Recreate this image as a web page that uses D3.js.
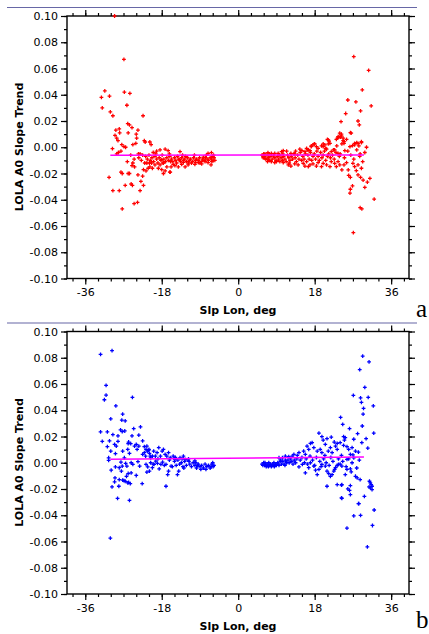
<!DOCTYPE html>
<html>
<head>
<meta charset="utf-8">
<script src="https://cdn.jsdelivr.net/npm/d3@7"></script>
<style>
  body { margin: 0; background: #fff; }
  svg { display: block; }
  .tick text { font-family: "DejaVu Sans", Verdana, sans-serif; font-size: 11px; fill: #000; }
</style>
</head>
<body>
<svg width="429" height="634"></svg>
<script>
// axis ticks
var xTickValues = [-36, -18, 0, 18, 36];
var yTickValues = [-0.10, -0.08, -0.06, -0.04, -0.02, 0, 0.02, 0.04, 0.06, 0.08, 0.10];

// panel a (red) : [Slp Lon deg, A0 slope trend]
var redPoints = [
  [-32.2,0.038],[-31.4,0.043],[-30.3,0.039],[-32.0,0.030],[-30.1,0.027],[-29.5,0.024],[-29.1,0.100],
  [-26.9,0.067],[-26.8,0.042],[-25.5,0.041],[-26.2,0.032],[-26.0,0.018],[-25.6,0.017],[-25.0,0.015],
  [-28.0,0.014],[-28.8,0.013],[-27.9,0.011],[-23.6,0.013],[-24.0,0.010],[-25.9,0.011],[-29.0,0.009],
  [-28.6,0.007],[-28.3,0.005],[-22.4,0.024],[-23.9,0.007],[-24.8,0.002],[-24.1,0.003],[-22.1,0.005],
  [-21.9,0.004],[-20.8,0.004],[-20.5,0.002],[-27.4,0.002],[-26.9,0.0005],[-26.5,0.000],[-29.6,-0.001],
  [-27.6,-0.003],[-28.2,-0.004],[-28.6,-0.005],[-23.5,-0.005],[-23.1,-0.005],
  [-30.4,-0.023],[-29.5,-0.033],[-28.0,-0.033],[-27.6,-0.019],[-27.3,-0.020],[-27.3,-0.047],[-26.6,-0.029],
  [-25.9,-0.020],[-25.6,-0.020],[-25.2,-0.028],[-24.9,-0.029],[-24.5,-0.043],[-23.7,-0.042],[-25.0,-0.014],
  [-24.4,-0.015],[-23.6,-0.021],[-23.1,-0.033],[-22.9,-0.026],[-22.5,-0.022],[-22.3,-0.029],
  [-17.6,-0.020],[-17.2,-0.018],[-16.0,-0.019],[-22.3,-0.017],[-21.7,-0.018],[-21.2,-0.016],[-21.5,-0.012],
  [-20.8,-0.015],[-20.2,-0.016],[-20.4,-0.012],[-19.6,-0.0135],[-18.8,-0.016],[-18.4,-0.0135],[-18.0,-0.017],
  [-17.6,-0.012],[-16.8,-0.015],[-16.1,-0.019],[-15.8,-0.015],[-15.3,-0.013],[-14.9,-0.014],[-14.1,-0.015],
  [-13.3,-0.013],[-12.9,-0.0115],[-12.5,-0.015],[-11.8,-0.0135],[-11.0,-0.012],[-10.2,-0.013],[-9.4,-0.0117],
  [-8.6,-0.0127],[-7.8,-0.011],[-7.1,-0.0117],[-6.4,-0.0135],[-5.9,-0.0102],
  [-20.0,-0.004],[-19.2,-0.003],[-18.4,-0.002],[-17.2,-0.0015],[-16.5,-0.0026],[-13.7,-0.0033],[-7.1,-0.0046],
  [-6.3,-0.0041],
  [-21.8,-0.007],[-21.4,-0.009],[-21.0,-0.006],[-20.7,-0.010],[-20.3,-0.008],[-19.9,-0.011],[-19.6,-0.007],
  [-19.2,-0.009],[-18.9,-0.012],[-18.6,-0.008],[-18.2,-0.010],[-17.9,-0.006],[-17.5,-0.009],[-17.1,-0.011],
  [-16.8,-0.008],[-16.4,-0.010],[-16.1,-0.007],[-15.7,-0.009],[-15.4,-0.011],[-15.0,-0.008],[-14.7,-0.010],
  [-14.3,-0.007],[-14.0,-0.009],[-13.6,-0.011],[-13.3,-0.008],[-12.9,-0.010],[-12.6,-0.009],[-12.2,-0.011],
  [-11.9,-0.008],[-11.5,-0.010],[-11.2,-0.009],[-10.8,-0.011],[-10.5,-0.008],[-10.1,-0.010],[-9.8,-0.009],
  [-9.4,-0.010],[-9.1,-0.008],[-8.7,-0.011],[-8.4,-0.009],[-8.0,-0.010],[-7.7,-0.008],[-7.3,-0.009],
  [-7.0,-0.010],[-6.6,-0.008],[-6.3,-0.009],[-6.0,-0.007],[-5.7,-0.008],[-5.5,-0.010],
  [-20.9,-0.012],[-19.4,-0.005],[-17.7,-0.012],[-16.2,-0.005],[-14.5,-0.012],[-13.1,-0.006],[-11.7,-0.012],
  [-10.3,-0.006],[-9.0,-0.012],[-7.5,-0.006],[-6.2,-0.011],[-5.8,-0.006],[-12.4,-0.007],[-15.9,-0.011],
  [-18.0,-0.0095],[-8.2,-0.0075],[-10.0,-0.0115],[-13.8,-0.0095],
  [-23.4,-0.008],[-22.8,-0.010],[-22.5,-0.006],[-24.5,-0.009],[-25.3,-0.006],[-26.1,-0.011],[-22.0,-0.012],
  [-24.8,-0.012],
  // right half
  [27.2,0.069],[30.7,0.0585],[29.2,0.0437],[25.8,0.036],[27.7,0.0346],[31.3,0.0315],[28.8,0.0277],
  [25.3,0.0257],[28.2,0.020],[28.5,0.017],[24.2,0.0195],[26.4,0.0112],[24.3,0.010],[24.1,0.0077],
  [23.7,0.008],[23.4,0.0069],[21.0,0.006],[21.4,0.0046],[21.2,0.0025],[24.7,0.005],[24.9,0.003],
  [25.5,0.006],[26.9,0.0012],[27.4,0.003],[27.9,0.0035],[28.4,0.001],[29.0,0.0043],[30.2,0.000],
  [28.7,-0.005],[19.6,0.001],[20.0,0.0025],[20.6,-0.0008],[17.2,0.001],[17.9,0.0025],[18.4,0.0005],
  [18.8,-0.0008],[14.5,-0.0015],[15.0,-0.0026],[15.7,-0.0033],[16.3,-0.002],[16.9,-0.0026],[10.2,-0.0033],
  [10.6,-0.0026],[11.4,-0.003],[12.4,-0.0046],[13.3,-0.005],[6.3,-0.005],[7.0,-0.0041],[7.8,-0.0046],
  [8.6,-0.0046],[9.4,-0.0046],
  [27.1,-0.065],[28.7,-0.046],[29.1,-0.047],[32.0,-0.0395],[26.4,-0.032],[26.9,-0.0295],[26.3,-0.035],
  [29.8,-0.0305],[30.4,-0.0265],[31.0,-0.0237],[27.8,-0.0178],[28.2,-0.021],[28.8,-0.023],[29.4,-0.025],
  [25.9,-0.0173],[26.0,-0.0214],[26.4,-0.023],[27.0,-0.0122],[27.4,-0.0148],[28.2,-0.0135],[29.0,-0.016],
  [24.4,-0.0173],[24.9,-0.0135],[25.5,-0.0117],[23.5,-0.011],[23.9,-0.0135],[23.1,-0.0148],[22.7,-0.0122],
  [20.8,-0.0135],[21.6,-0.0148],[21.9,-0.011],[19.6,-0.0148],[20.0,-0.0122],[16.5,-0.0148],[16.9,-0.0135],
  [17.6,-0.0127],[18.4,-0.0143],[18.8,-0.0117],[11.8,-0.0135],[12.4,-0.0143],[13.3,-0.0127],[14.1,-0.0135],
  [15.3,-0.0122],[15.7,-0.0143],[7.8,-0.011],[8.6,-0.0117],[9.8,-0.011],[10.6,-0.0117],[6.3,-0.0084],
  [7.0,-0.0092],[5.9,-0.0072],
  [23.9,0.0107],[24.3,0.0086],[24.7,0.0069],[24.9,0.0043],[23.5,0.008],[23.1,0.006],[24.4,0.0025],
  [21.2,0.0056],[21.6,0.003],[20.4,0.0018],[20.0,0.0005],[20.8,-0.0015],[18.0,0.0025],[17.6,0.0018],
  [17.2,0.0005],[16.5,-0.002],[16.1,-0.0008],[21.9,-0.0033],[22.7,-0.002],[23.5,-0.0046],[25.1,-0.0026],
  [26.3,0.0005],[27.4,0.0018],[28.2,0.003],[29.0,0.0035],[26.6,0.0107],
  [5.6,-0.006],[5.9,-0.008],[6.2,-0.007],[6.5,-0.009],[6.8,-0.006],[7.1,-0.008],[7.4,-0.010],[7.7,-0.007],
  [8.0,-0.009],[8.3,-0.006],[8.6,-0.008],[8.9,-0.010],[9.2,-0.007],[9.5,-0.009],[9.8,-0.006],[10.1,-0.008],
  [10.4,-0.010],[10.7,-0.007],[11.0,-0.009],[11.3,-0.011],[11.6,-0.006],[11.9,-0.008],[12.2,-0.010],
  [12.5,-0.007],[12.8,-0.009],[13.1,-0.005],[13.4,-0.008],[13.7,-0.011],[14.0,-0.006],[14.3,-0.009],
  [14.6,-0.004],[14.9,-0.010],[15.2,-0.007],[15.5,-0.009],[15.8,-0.005],[16.1,-0.011],[16.4,-0.006],
  [16.7,-0.009],[17.0,-0.004],[17.3,-0.010],[17.6,-0.007],[17.9,-0.005],[18.2,-0.009],[18.5,-0.003],
  [18.8,-0.007],[19.1,-0.010],[19.4,-0.004],[19.7,-0.008],[20.0,-0.006],[20.3,-0.003],[20.6,-0.010],
  [21.0,-0.007],[21.3,-0.005],[21.7,-0.008],[22.2,-0.006],[22.6,-0.009],[23.0,-0.004],[23.8,-0.007],
  [6.0,-0.005],[7.3,-0.005],[9.0,-0.011],[10.5,-0.005],[12.0,-0.012],[13.5,-0.003],[6.9,-0.011],
  [22.4,-0.002],[23.2,0.001],[24.0,-0.005],[25.0,-0.008],[25.8,-0.003],[26.5,-0.006],[27.2,-0.009],
  [27.9,-0.002],[28.6,-0.007],[29.3,-0.011],[29.8,-0.004]
];

// panel b (blue)
var bluePoints = [
  [-32.4,0.0825],[-29.7,0.0855],[-31.1,0.059],[-31.1,0.0516],[-31.5,0.048],[-28.8,0.0434],[-24.9,0.0498],
  [-30.0,0.0334],[-27.2,0.037],[-27.4,0.0324],[-26.6,0.0319],[-32.4,0.0235],[-30.8,0.0235],[-32.0,0.0163],
  [-27.7,0.025],[-27.3,0.0238],[-26.7,0.0242],[-29.5,0.0215],[-28.3,0.0204],[-24.6,0.026],[-23.0,0.0273],
  [-23.4,0.021],[-25.0,0.0204],[-25.8,0.0158],[-25.9,0.0145],[-25.3,0.0145],
  [-30.3,0.0166],[-30.8,0.0123],[-29.1,0.014],[-28.7,0.0127],[-28.3,0.0163],
  [-30.0,0.0089],[-28.9,0.0069],[-27.2,0.0089],[-26.0,0.0102],[-25.6,0.0071],[-26.8,0.0038],[-27.6,0.0005],
  [-24.4,0.0127],[-24.0,0.014],[-23.4,0.0127],[-23.8,0.0102],[-22.5,0.0166],[-22.1,0.0123],[-21.7,0.0102],
  [-21.5,0.0127],[-21.1,0.0094],[-20.9,0.0071],[-20.7,0.0051],[-30.5,0.0038],[-30.5,0.0018],
  [-29.9,-0.0057],[-28.9,-0.0031],[-28.0,-0.0038],[-27.3,-0.0026],[-26.5,-0.0005],[-26.2,-0.0026],
  [-25.2,0.000],[-24.8,-0.0013],[-23.6,0.0008],[-23.2,-0.0026],[-25.9,-0.0082],[-26.3,-0.0103],
  [-27.5,-0.0064],[-24.0,-0.0097],[-25.2,-0.0077],
  [-29.0,-0.0115],[-29.1,-0.0146],[-29.7,-0.0184],[-28.1,-0.0179],[-28.0,-0.0128],[-27.2,-0.0133],
  [-26.6,-0.0141],[-26.0,-0.0153],[-25.4,-0.0159],[-22.6,-0.0159],[-28.4,-0.0271],[-25.6,-0.0287],
  [-30.1,-0.0575],[-17.0,-0.0179],[-26.9,-0.0136],[-25.8,-0.0149],
  [-21.7,-0.0013],[-21.3,-0.0031],[-20.6,0.000],[-20.2,-0.0038],[-19.8,-0.0013],[-19.4,0.0012],
  [-19.0,-0.0005],[-18.6,-0.0046],[-18.2,-0.0013],[-17.8,0.0005],[-17.0,-0.0013],[-16.6,-0.009],
  [-16.4,-0.0064],[-15.8,-0.0026],[-14.3,-0.009],[-14.0,-0.0064],[-21.5,-0.0072],[-20.9,-0.0064],
  [-22.5,0.0064],[-22.1,0.0077],[-21.8,0.0051],[-21.4,0.0089],[-21.0,0.0102],[-20.6,0.0038],[-20.2,0.0051],
  [-19.9,0.0089],[-19.5,0.0051],[-19.1,0.0077],[-18.7,0.0115],[-18.3,0.0051],[-17.9,0.0089],[-17.6,0.0102],
  [-17.2,0.0064],[-16.8,0.0051],[-16.4,0.0077],[-16.0,0.0038],[-15.3,0.0051],[-14.9,0.0025],[-13.7,0.0038],
  [-12.9,0.0051],[-12.5,0.0025],[-11.7,0.0030],[-10.2,0.0015],
  [-15.0,0.001],[-14.6,-0.002],[-14.2,0.002],[-13.8,-0.001],[-13.4,0.000],[-13.0,-0.003],[-12.6,0.001],
  [-12.2,-0.002],[-11.8,0.002],[-11.4,-0.001],[-11.0,-0.003],[-10.6,0.000],[-10.2,-0.002],[-9.8,-0.004],
  [-9.4,-0.001],[-9.0,-0.003],[-8.6,-0.002],[-8.2,-0.004],[-7.8,-0.001],[-7.4,-0.003],[-7.0,-0.002],
  [-6.6,-0.004],[-6.2,-0.001],[-5.9,-0.003],[-5.7,-0.002],[-14.8,0.004],[-13.2,0.003],[-11.6,0.001],
  [-10.0,0.000],[-8.8,-0.005],[-7.6,-0.005],[-6.4,-0.003],[-12.8,-0.004],[-9.6,-0.002],[-6.0,0.000],
  [-15.5,-0.003],[-16.2,0.002],[-17.4,-0.002],[-18.9,0.003],[-20.0,-0.001],
  // right half
  [29.3,0.0812],[30.8,0.0769],[28.6,0.071],[29.8,0.0575],[27.1,0.0513],[28.8,0.0495],[30.6,0.0498],
  [29.0,0.046],[29.5,0.0414],[29.4,0.037],[31.8,0.0434],[29.2,0.028],[31.9,0.0225],[24.1,0.0345],
  [24.6,0.0293],[26.2,0.026],[28.1,0.0222],[27.2,0.0179],[29.1,0.0153],[30.1,0.0184],[30.5,0.0112],
  [24.8,0.0199],[25.2,0.0192],[25.0,0.0173],[24.0,0.0153],[24.8,0.0133],[25.6,0.0123],[26.0,0.0102],
  [26.8,0.0115],[27.6,0.0089],[28.3,0.0081],[26.4,0.0064],[27.2,0.0038],[25.6,0.0025],[24.3,0.0056],
  [19.0,0.0225],[19.7,0.0199],[20.0,0.0173],[20.9,0.0184],[20.5,0.014],[21.9,0.0196],[22.6,0.0158],
  [22.9,0.0127],[23.3,0.0148],[21.7,0.0115],[21.2,0.0089],[22.1,0.0077],[23.3,0.0102],
  [16.2,0.0127],[17.0,0.0148],[17.4,0.0153],[16.6,0.0102],[17.8,0.0115],[18.6,0.0089],[19.3,0.0102],
  [19.7,0.0077],[20.4,0.0056],[15.4,0.0089],[15.8,0.0064],[14.3,0.0077],[13.9,0.0056],[13.1,0.0064],
  [12.7,0.0051],[11.9,0.0046],[11.1,0.0051],[10.4,0.0038],[9.6,0.0038],
  [15.8,-0.0077],[14.3,-0.0031],[15.1,-0.0013],[16.6,-0.0038],[17.0,0.000],[17.8,-0.0026],[18.2,-0.0057],
  [18.6,-0.009],[19.0,-0.0051],[19.7,-0.0013],[20.5,-0.0026],[20.9,-0.0064],[21.3,-0.0082],[21.7,-0.0103],
  [22.1,-0.009],[22.5,-0.0064],[22.9,-0.0038],[23.3,-0.0021],[23.6,-0.0013],[24.4,-0.0026],[25.2,-0.009],
  [25.6,-0.0051],[26.4,-0.0046],[26.8,0.000],[27.6,-0.0103],[28.0,-0.0115],[28.7,-0.0128],
  [20.9,-0.0179],[23.3,-0.0166],[24.4,-0.0166],[24.3,-0.0268],[26.4,-0.0174],[26.2,-0.021],[26.4,-0.0243],
  [29.7,-0.0256],[28.4,-0.0312],[28.8,-0.0401],[27.2,-0.0404],[25.6,-0.0498],[32.0,-0.036],[31.6,-0.0478],
  [30.4,-0.0641],[31.1,-0.0153],[31.5,-0.0179],[31.1,-0.0192],[31.3,-0.0166],[30.9,-0.0141],
  [24.3,-0.0171],[25.8,-0.0199],[24.4,-0.0271],[28.3,-0.0312],[30.8,-0.0184],[31.5,-0.0205],
  [5.6,-0.001],[5.8,-0.002],[6.0,0.000],[6.2,-0.002],[6.4,-0.001],[6.6,-0.003],[6.8,-0.001],[7.0,-0.002],
  [7.2,0.000],[7.4,-0.002],[7.6,-0.001],[7.8,-0.003],[8.0,-0.001],[8.2,-0.002],[8.4,0.000],[8.6,-0.002],
  [8.8,-0.001],[9.0,-0.002],[9.3,0.000],[9.6,-0.002],[9.9,0.001],[10.2,-0.001],[10.5,0.001],[10.8,-0.001],
  [11.1,0.002],[11.4,0.000],[11.7,0.002],[12.0,0.000],[12.3,0.003],[12.6,0.001],[12.9,-0.001],[13.2,0.002],
  [13.5,0.000],[13.8,0.003],[6.3,0.000],[7.1,-0.003],[8.5,-0.003],[9.4,-0.001],[10.0,0.002],[11.0,-0.002],
  [14.6,0.002],[15.0,0.004],[15.6,0.000],[16.0,0.003],[16.3,-0.001],[16.9,0.005],[17.5,0.002],[18.0,-0.002],
  [18.4,0.004],[19.2,0.001],[19.5,-0.003],[20.1,0.003],[20.7,0.000],[21.4,-0.002],[21.8,0.004],[22.3,0.001],
  [22.7,-0.005],[23.6,0.003],[24.0,-0.001],[24.6,0.001],[25.4,-0.003],[26.0,0.003],[26.6,-0.007],[27.0,0.006],
  [27.9,-0.004],[28.5,0.002]
];

// fitted trend lines: [lon start, lon end] and values at those ends
var trendLon = [-30.1, 29.6];
var redTrend = [-0.0061, -0.0059];
var blueTrend = [0.0027, 0.0043];

var svg = d3.select("svg");
svg.append("rect").attr("width", 429).attr("height", 634).attr("fill", "#fff");

var x = d3.scaleLinear().domain([-40.3, 40.2]).range([67, 409]);
var xMinor = d3.range(-39, 40, 3);
var yMinor = d3.range(-10, 11).map(function(d) { return d / 100; });

function drawPanel(top, points, color, trend, letter, letterY) {
  var y = d3.scaleLinear().domain([-0.1, 0.1]).range([top + 262.5, top]);
  var g = svg.append("g");

  // separator line above panel
  g.append("line")
    .attr("x1", 7).attr("x2", 417)
    .attr("y1", top - 8.5).attr("y2", top - 8.5)
    .attr("stroke", "#6767a6").attr("stroke-width", 1.2);

  // minor ticks (no labels) on all four sides
  var sides = [
    [d3.axisLeft(y).tickValues(yMinor), "translate(67,0)"],
    [d3.axisRight(y).tickValues(yMinor), "translate(409,0)"],
    [d3.axisBottom(x).tickValues(xMinor), "translate(0," + (top + 262.5) + ")"],
    [d3.axisTop(x).tickValues(xMinor), "translate(0," + top + ")"]
  ];
  sides.forEach(function(s) {
    g.append("g").attr("transform", s[1])
      .call(s[0].tickSize(3).tickSizeOuter(0).tickFormat(""))
      .call(function(a) { a.select(".domain").remove(); });
  });

  // major ticks
  g.append("g").attr("transform", "translate(67,0)")
    .call(d3.axisLeft(y).tickValues(yTickValues).tickSize(6).tickPadding(3)
      .tickFormat(function(d) { return d.toFixed(2); }))
    .call(function(a) { a.select(".domain").remove(); });
  g.append("g").attr("transform", "translate(409,0)")
    .call(d3.axisRight(y).tickValues(yTickValues).tickSize(6).tickFormat(""))
    .call(function(a) { a.select(".domain").remove(); });
  g.append("g").attr("transform", "translate(0," + (top + 262.5) + ")")
    .call(d3.axisBottom(x).tickValues(xTickValues).tickSize(6).tickPadding(4)
      .tickFormat(function(d) { return String(d); }))
    .call(function(a) { a.select(".domain").remove(); });
  g.append("g").attr("transform", "translate(0," + top + ")")
    .call(d3.axisTop(x).tickValues(xTickValues).tickSize(6).tickFormat(""))
    .call(function(a) { a.select(".domain").remove(); });
  g.selectAll(".tick line").attr("stroke", "#000").attr("stroke-width", 1.2);

  // frame
  g.append("rect")
    .attr("x", 67).attr("y", top)
    .attr("width", 342).attr("height", 262.5)
    .attr("fill", "none").attr("stroke", "#000").attr("stroke-width", 1.4);

  // points
  var sym = d3.symbol().type(d3.symbolCross).size(8);
  g.append("g").selectAll("path")
    .data(points)
    .enter()
    .append("path")
    .attr("d", sym)
    .attr("fill", color)
    .attr("transform", function(d) {
      return "translate(" + x(d[0]) + "," + y(d[1]) + ")";
    });

  // trend line
  g.append("line")
    .attr("x1", x(trendLon[0])).attr("x2", x(trendLon[1]))
    .attr("y1", y(trend[0])).attr("y2", y(trend[1]))
    .attr("stroke", "#ff00ff").attr("stroke-width", 1.5);

  // titles
  g.append("text")
    .attr("transform", "translate(23," + (top + 131) + ") rotate(-90)")
    .attr("text-anchor", "middle")
    .style("font-family", "'DejaVu Sans', Verdana, sans-serif")
    .style("font-size", "11px").style("font-weight", "bold")
    .text("LOLA A0 Slope Trend");
  g.append("text")
    .attr("x", 238).attr("y", top + 298)
    .attr("text-anchor", "middle")
    .style("font-family", "'DejaVu Sans', Verdana, sans-serif")
    .style("font-size", "11px").style("font-weight", "bold")
    .text("Slp Lon, deg");

  g.append("text")
    .attr("x", 416).attr("y", letterY)
    .style("font-family", "'Liberation Serif', 'DejaVu Serif', serif")
    .style("font-size", "25px")
    .text(letter);
}

drawPanel(16, redPoints, "#ff0000", redTrend, "a", 317);
drawPanel(331.5, bluePoints, "#0000ff", blueTrend, "b", 627.5);
</script>
</body>
</html>
